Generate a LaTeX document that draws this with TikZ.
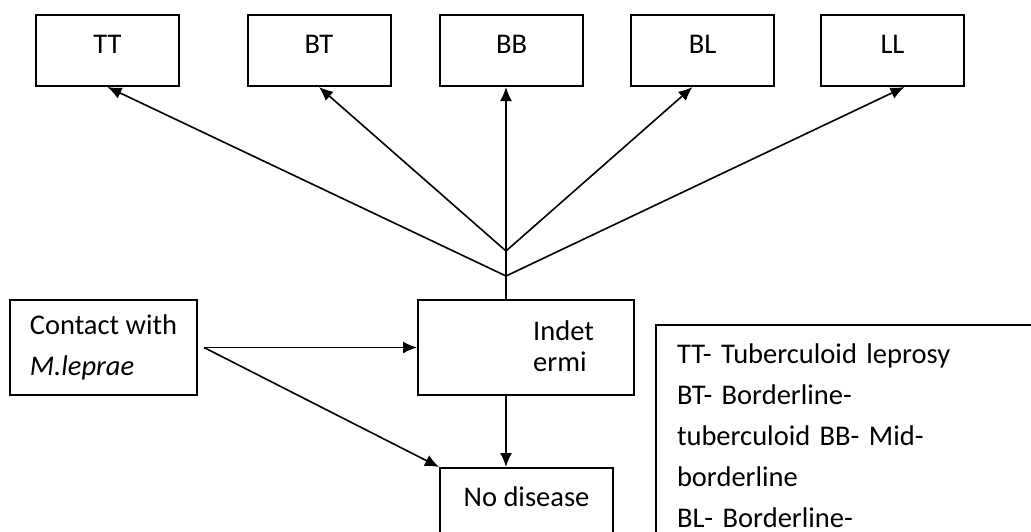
\documentclass[tikz,border=0pt]{standalone}
\usepackage{fontspec}
\setmainfont{Carlito}
\usetikzlibrary{arrows.meta,calc}
\tikzset{
  box/.style = {rectangle,draw=black,line width=2,inner sep=0pt,font=\fontsize{28.5}{41}\selectfont},
  stage/.style = {box,minimum width=143,minimum height=71,text depth=12},
  txt/.style = {font=\fontsize{28.5}{31}\selectfont,align=left,inner sep=0pt},
  %
  edge/.style = {-{Latex[length=14pt,width=12pt]},line width=1.6,black},
  link/.style = {line width=1.6,black},
}
\begin{document}
\begin{tikzpicture}[x=1pt,y=-1pt]
    \useasboundingbox (0,0) rectangle (1031,531);
    \clip (0,0) rectangle (1031,531);

    \node[stage] at (107.5,50.5) (tt) {TT};
    \node[stage] at (319,50.5) (bt) {BT};
    \node[stage] at (511.5,50.5) (bb) {BB};
    \node[stage] at (702.5,50.5) (bl) {BL};
    \node[stage] at (892.5,50.5) (ll) {LL};

    \node[box,minimum width=187,minimum height=95,align=left] at (103.5,347.5) (contact) {Contact with\\\textit{M.leprae}};
    \node[box,minimum width=216,minimum height=95] at (526,347.5) (indet) {};
    \node[txt,anchor=north west] at (533,321) (indettext) {Indet\\ermi};
    \node[box,minimum width=173,anchor=north,inner ysep=4,text height=34,text depth=44] at (526.5,467) (nodisease) {No disease};

    \node[box,anchor=north west,minimum width=400,text width=358,align=left,inner xsep=21,inner ysep=14,text height=24] at (655,324) (key)
        {TT- Tuberculoid leprosy\\BT- Borderline-\\tuberculoid BB- Mid-\\borderline\\BL- Borderline-};

    \coordinate (hi) at (506,251);
    \coordinate (lo) at (506,276);
    \coordinate (fork) at ([xshift=6pt]contact.east);

    \draw[link] (hi |- indet.north) -- (hi);
    \draw[edge] (hi) -- (hi |- bb.south);
    \draw[edge] (hi) -- (bt.south);
    \draw[edge] (hi) -- ([xshift=-10pt]bl.south);
    \draw[edge] (lo) -- (tt.south);
    \draw[edge] (lo) -- ([xshift=12pt]ll.south);

    \draw[edge] (fork) -- (indet.west);
    \draw[edge] (fork) -- (nodisease.north west);
    \draw[edge] (hi |- indet.south) -- (hi |- nodisease.north);

\end{tikzpicture}
\end{document}
